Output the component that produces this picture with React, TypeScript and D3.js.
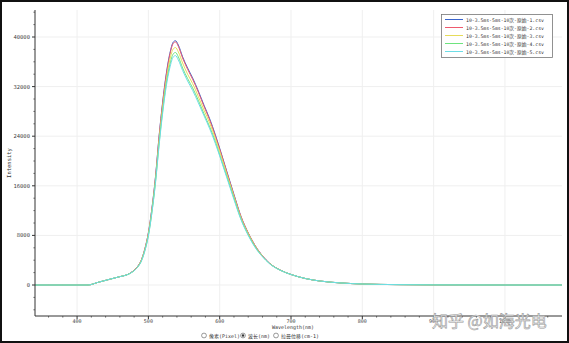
import React from "react";
import * as d3 from "d3";

const wavelengths = [341, 360, 380, 400, 415, 430, 445, 460, 470, 478, 485, 490, 495, 500, 505, 510, 515, 520, 525, 530, 535, 538, 542, 548, 555, 562, 570, 578, 586, 594, 602, 610, 620, 630, 640, 650, 660, 670, 685, 700, 720, 740, 770, 800, 850, 900, 1000, 1080];

const series1 = [0,0,0,0,0,450,900,1350,1650,2200,3000,4000,5800,8400,12400,17500,24000,29500,34000,37300,39200,39400,38700,36800,35000,33400,31300,29000,26800,24200,21300,18300,14600,11000,8400,6300,4700,3500,2400,1700,1050,650,330,160,60,20,0,0];
const series2 = [0,0,0,0,0,450,900,1350,1650,2200,3000,4000,5800,8400,12300,17400,23900,29300,33800,37100,39000,39200,38500,36600,34800,33200,31100,28800,26600,24000,21200,18200,14500,11000,8400,6300,4700,3500,2400,1700,1050,650,330,160,60,20,0,0];
const series3 = [0,0,0,0,0,450,900,1350,1650,2150,2950,3950,5700,8200,12100,17000,23300,28700,33000,36300,38100,38300,37600,35800,34000,32500,30400,28200,26100,23600,20800,17900,14300,10800,8300,6200,4650,3480,2390,1700,1050,650,330,160,60,20,0,0];
const series4 = [0,0,0,0,0,450,900,1350,1640,2130,2900,3850,5550,8000,11800,16700,22800,28100,32400,35500,37300,37500,36800,35000,33300,31800,29800,27600,25500,23100,20300,17500,14000,10600,8100,6100,4600,3450,2380,1690,1050,650,330,160,60,20,0,0];
const series5 = [0,0,0,0,0,450,900,1350,1640,2120,2880,3800,5480,7900,11700,16500,22500,27700,32000,35000,36800,37000,36300,34600,32900,31400,29400,27300,25200,22800,20100,17300,13800,10500,8000,6000,4550,3420,2370,1690,1050,650,330,160,60,20,0,0];

const seriesNames = [
  "10-3.5ms-5ms-10次-原始-1.csv",
  "10-3.5ms-5ms-10次-原始-2.csv",
  "10-3.5ms-5ms-10次-原始-3.csv",
  "10-3.5ms-5ms-10次-原始-4.csv",
  "10-3.5ms-5ms-10次-原始-5.csv",
];
const seriesColors = ["#3a64cc", "#ee5a6e", "#e6dc5a", "#6ee47e", "#6ddde6"];
const allSeries = [series1, series2, series3, series4, series5];

const xTicks = [400, 500, 600, 700, 800, 900, 1000];
const yTicks = [0, 8000, 16000, 24000, 32000, 40000];

const W = 569, H = 343;
const L = 35, R = 562, T = 10, B = 316;

export default function App() {
  const x = d3.scaleLinear().domain([341, 1080]).range([L, R]);
  const y = d3.scaleLinear().domain([-5000, 44355]).range([B, T]);
  const line = d3.line<number>().x((_, i) => x(wavelengths[i])).y((d) => y(d)).curve(d3.curveMonotoneX);
  const xMinor = d3.range(360, 1080, 20).filter((v) => v % 100 !== 0);
  const yMinor = d3.range(-4000, 44001, 2000).filter((v) => v % 8000 !== 0);
  const tickFont = "DejaVu Sans Mono, monospace";
  const cjkMono = "DejaVu Sans Mono, Noto Sans CJK SC, monospace";
  return (
    <svg width={W} height={H} style={{ position: "absolute", left: 0, top: 0, display: "block", background: "#fff" }}>
      <rect x={0} y={0} width={W} height={H} fill="#fff" />
      {/* grid */}
      {xTicks.map((t) => (
        <line key={"gx" + t} x1={x(t)} x2={x(t)} y1={T} y2={B} stroke="#efefef" strokeWidth={1} />
      ))}
      {yTicks.map((t) => (
        <line key={"gy" + t} x1={L} x2={R} y1={y(t)} y2={y(t)} stroke="#efefef" strokeWidth={1} />
      ))}
      {/* series */}
      {allSeries.map((s, i) => (
        <path key={"s" + i} d={line(s) || ""} fill="none" stroke={seriesColors[i]} strokeWidth={1} />
      ))}
      {/* axes */}
      <line x1={L} x2={L} y1={T} y2={B} stroke="#333" strokeWidth={1} />
      <line x1={L} x2={R} y1={B} y2={B} stroke="#333" strokeWidth={1} />
      {xTicks.map((t) => (
        <g key={"xt" + t}>
          <line x1={x(t)} x2={x(t)} y1={B} y2={B + 3} stroke="#333" />
          <text x={x(t)} y={B + 7} fontSize={5} textAnchor="middle" fill="#444" fontFamily={tickFont}>{t}</text>
        </g>
      ))}
      {xMinor.map((t) => (
        <line key={"xm" + t} x1={x(t)} x2={x(t)} y1={B} y2={B + 1.5} stroke="#555" />
      ))}
      {yTicks.map((t) => (
        <g key={"yt" + t}>
          <line x1={L - 3} x2={L} y1={y(t)} y2={y(t)} stroke="#333" />
          <text x={L - 5} y={y(t) + 2} fontSize={5.5} textAnchor="end" fill="#444" fontFamily={tickFont}>{t}</text>
        </g>
      ))}
      {yMinor.map((t) => (
        <line key={"ym" + t} x1={L - 1.5} x2={L} y1={y(t)} y2={y(t)} stroke="#555" />
      ))}
      <text x={0} y={0} transform={`translate(11,${(T + B) / 2}) rotate(-90)`} fontSize={5.5} textAnchor="middle" fill="#333" fontFamily={tickFont}>Intensity</text>
      <text x={293} y={329} fontSize={5} textAnchor="middle" fill="#333" fontFamily={tickFont}>Wavelength(nm)</text>
      {/* radio row */}
      <g fontSize={5} fill="#333" fontFamily={cjkMono}>
        <circle cx={204} cy={335.5} r={2.4} fill="#fff" stroke="#555" strokeWidth={0.6} />
        <text x={209} y={337.5}>像素(Pixel)</text>
        <circle cx={243} cy={335.5} r={2.4} fill="#fff" stroke="#555" strokeWidth={0.6} />
        <circle cx={243} cy={335.5} r={1.2} fill="#333" />
        <text x={248} y={337.5}>波长(nm)</text>
        <circle cx={276} cy={335.5} r={2.4} fill="#fff" stroke="#555" strokeWidth={0.6} />
        <text x={281} y={337.5}>拉曼位移(cm-1)</text>
      </g>
      {/* legend */}
      <rect x={441.5} y={14.5} width={111} height={43} fill="#fff" stroke="#777" strokeWidth={0.8} />
      {seriesNames.map((n, i) => (
        <g key={"lg" + i}>
          <line x1={445} x2={463} y1={19.5 + i * 8} y2={19.5 + i * 8} stroke={seriesColors[i]} strokeWidth={1} />
          <text x={466} y={21.5 + i * 8} fontSize={4.8} fill="#333" fontFamily={cjkMono}>{n}</text>
        </g>
      ))}
      {/* watermark */}
      <text x={432} y={327} fontSize={16} fill="#f8f8f8" stroke="#999" strokeWidth={0.6} fontFamily="Noto Sans CJK SC, sans-serif">知乎 @如海光电</text>
      {/* outer frame */}
      <rect x={1} y={1} width={W - 2} height={H - 2} fill="none" stroke="#111" strokeWidth={2} />
    </svg>
  );
}
